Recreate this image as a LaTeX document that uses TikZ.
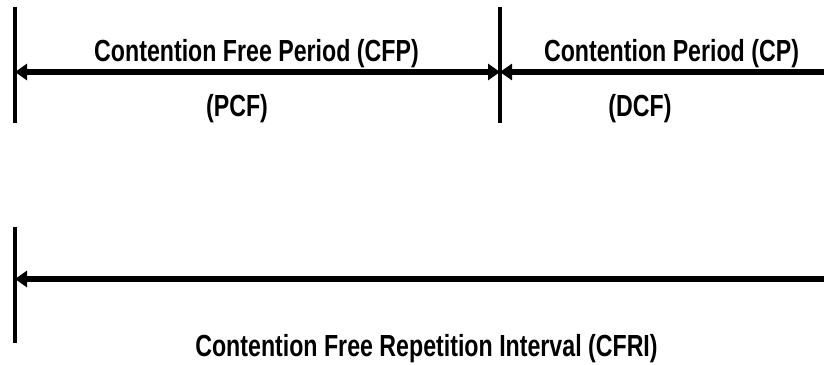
\documentclass[tikz,border=0pt]{standalone}
\usepackage{fontspec}
\setmainfont{Liberation Sans}[FakeStretch=0.76]
\usetikzlibrary{arrows.meta}
\begin{document}
\begin{tikzpicture}[x=1pt,y=-1pt,
  label/.style={anchor=base,inner sep=0pt,font=\fontsize{30.5}{36}\selectfont\bfseries},
  bar/.style={line width=3.5pt},
  spanboth/.style={line width=5.5pt,{Triangle[length=12pt,width=16pt]}-{Triangle[length=12pt,width=16pt]}}]
  \useasboundingbox (0,0) rectangle (824,364);
  \clip (0,0) rectangle (824,364);

  % boundaries of the periods
  \coordinate (cfpT) at (15,7);   \coordinate (cfpB) at (15,123);
  \coordinate (cpT)  at (500,7);  \coordinate (cpB)  at (500,123);
  \coordinate (cfriT) at (15,227); \coordinate (cfriB) at (15,343);

  % arrow end points
  \coordinate (cfpL) at (15,72);
  \coordinate (cfpR) at (500,72);
  \coordinate (cpR)  at (836,72);
  \coordinate (cfriL) at (15,279);
  \coordinate (cfriR) at (836,279);

  \draw[bar] (cfpT) -- (cfpB);
  \draw[bar] (cpT) -- (cpB);
  \draw[bar] (cfriT) -- (cfriB);

  \draw[spanboth] (cfpL) -- (cfpR);
  \draw[spanboth] (cpR) -- (cfpR);
  \draw[spanboth] (cfriL) -- (cfriR);

  % labels
  \node[label] (cfp) at (256.5,61) {Contention Free Period (CFP)};
  \node[label] (pcf) at (237,116) {(PCF)};
  \node[label] (cp)  at (671.5,61) {Contention Period (CP)};
  \node[label] (dcf) at (640,116) {(DCF)};
  \node[label] (cfri) at (426.5,356) {Contention Free Repetition Interval (CFRI)};
\end{tikzpicture}
\end{document}
